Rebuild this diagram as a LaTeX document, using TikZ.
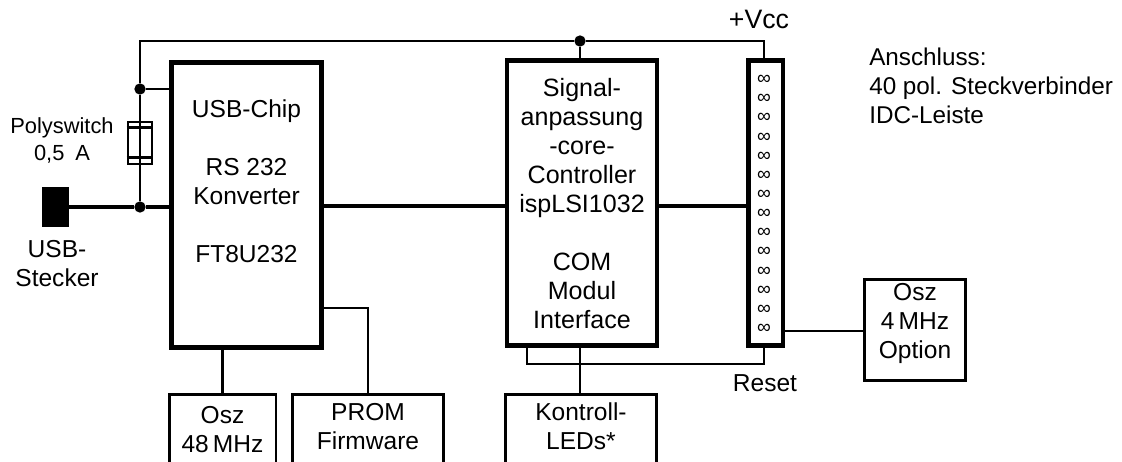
\documentclass[tikz,border=0pt]{standalone}
\usepackage{fontspec}
\setmainfont{Liberation Sans}
\usetikzlibrary{positioning, calc}
\tikzset{
    heavybox/.style={rectangle, draw, line width=3.6pt},
    thinbox/.style={rectangle, draw, line width=1.9pt},
    bus/.style={line width=3.6pt},
    wire/.style={line width=1.9pt},
    junction/.style={circle, fill=black, inner sep=0pt, minimum size=8.5pt},
    caption/.style={inner sep=0pt, align=center, font=\fontsize{18.4}{21.75}\selectfont},
    smallcaption/.style={inner sep=0pt, align=center, font=\fontsize{16.4}{20.25}\selectfont},
    pinmark/.style={inner sep=0pt, font=\fontsize{14.5}{14.5}\selectfont}
}

\begin{document}
\begin{tikzpicture}[x=0.75pt, y=-0.75pt]
    \clip[use as bounding box] (0,0) rectangle (1122,461);

    % Main blocks
    \node[heavybox, minimum width=112.5pt, minimum height=213.75pt] (chip) at (246.5,205) {};
    \node[heavybox, caption, font=\fontsize{18.8}{21.75}\selectfont, minimum width=112.5pt, minimum height=214pt] (mid) at (582,203.2)
        {Signal-\\anpassung\\-core-\\Controller\\ispLSI1032\\[21.75pt]COM\\Modul\\Interface};
    \node[heavybox, minimum width=25.9pt, minimum height=213.75pt] (conn) at (765.8,203) {};

    % Peripheral blocks
    \node[thinbox, minimum width=79.9pt, minimum height=75pt] (osz48) at (222.5,444.5) {};
    \node[thinbox, minimum width=113.25pt, minimum height=75pt] (prom) at (368,444.5) {};
    \node[thinbox, minimum width=113.25pt, minimum height=75pt] (leds) at (581,444.5) {};
    \node[thinbox, minimum width=75.75pt, minimum height=75.75pt] (osz4) at (915,330) {};

    % Plug and fuse
    \node[fill=black, inner sep=0pt, minimum width=20.25pt, minimum height=30pt] (plug) at (55.5,207) {};
    \node[thinbox, minimum width=18pt, minimum height=31.5pt] (fuse) at (140,143) {};

    % Junctions and corners
    \node[junction] (usbdot) at (140,207) {};
    \node[junction] (chipdot) at (140,89) {};
    \node[junction] (middot) at (580,41) {};
    \coordinate (corner) at (140,41);
    \coordinate (vcc) at (764,41);
    \coordinate (busrow) at (0,206);
    \coordinate (promrow) at (0,308);
    \coordinate (pinrow) at (0,331);
    \coordinate (resetrow) at (0,364);
    \coordinate (resetleft) at (527,0);

    % Supply lines
    \draw[wire] (usbdot) -- (chipdot) -- (corner) -- (middot) -- (vcc) -- (vcc |- conn.north);
    \draw[wire] (chipdot) -- (chipdot -| chip.west);
    \draw[wire] (middot) -- (middot |- mid.north);
    \draw[wire] ($(fuse.north west)+(0,7)$) -- ($(fuse.north east)+(0,7)$);
    \draw[wire] ($(fuse.south west)+(0,-8)$) -- ($(fuse.south east)+(0,-8)$);

    % Data lines
    \draw[bus] (plug) -- (usbdot) -- (usbdot -| chip.west);
    \draw[bus] (chip.east |- busrow) -- (mid.west |- busrow);
    \draw[bus] (mid.east |- busrow) -- (conn.west |- busrow);

    % Peripheral lines
    \draw[wire] (osz48.north) -- (osz48.north |- chip.south);
    \draw[wire] (chip.east |- promrow) -| (prom.north);
    \draw[wire] (middot |- mid.south) -- (middot |- leds.north);
    \draw[wire] (resetleft |- mid.south) -- (resetleft |- resetrow) -| (vcc |- conn.south);
    \draw[wire] (conn.east |- pinrow) -- (osz4.west |- pinrow);

    % Connector pins
    \foreach \row in {0,...,13}
        \node[pinmark] (pin\row) at (764,{80+19.15*\row}) {∞};

    % Labels
    \node[caption] (chiptext) at (246.5,181) {USB-Chip\\[21.75pt]RS 232\\Konverter\\[21.75pt]FT8U232};
    \node[caption] (osz48text) at (222.5,430) {Osz\\48\,MHz};
    \node[caption] (promtext) at (368,427) {PROM\\Firmware};
    \node[caption] (ledstext) at (581,426) {Kontroll-\\LEDs*};
    \node[caption] (osz4text) at (915,323) {Osz\\4\,MHz\\Option};
    \node[smallcaption] (fusetext) at (62,140) {Polyswitch\\0,5\enspace A};
    \node[caption] (plugtext) at (57,264) {USB-\\Stecker};
    \node[caption] (vcctext) at (759,19) {\fontsize{20}{24}\selectfont +Vcc};
    \node[caption] (resettext) at (765,383) {Reset};
    \node[caption, anchor=west, align=left, font=\fontsize{18.2}{21.75}\selectfont] (notetext) at (869,86) {Anschluss:\\40 pol. Steckverbinder\\IDC-Leiste};
\end{tikzpicture}
\end{document}
